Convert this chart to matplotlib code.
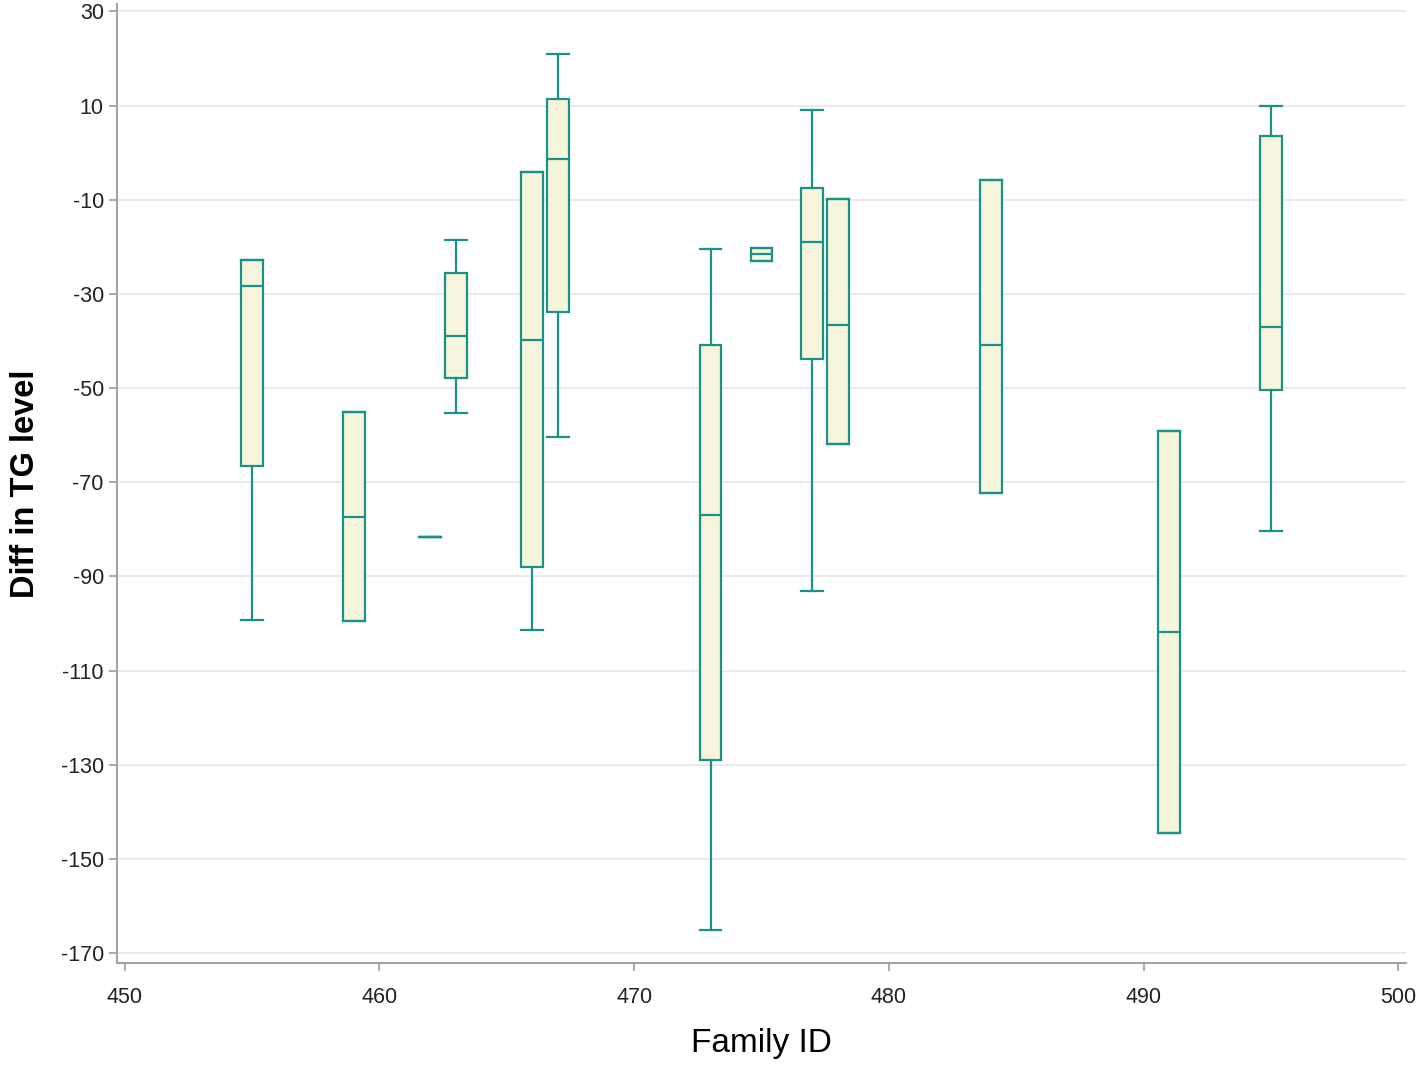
import matplotlib
matplotlib.use("Agg")
import matplotlib.pyplot as plt

plt.rcParams['font.family'] = ['Liberation Sans', 'DejaVu Sans']
plt.rcParams['axes.unicode_minus'] = False

# Family IDs and box statistics
family_id = [455, 459, 462, 463, 466, 467, 473, 475, 477, 478, 484, 491, 495]
whisker_low = [-99.3, -99.5, -81.7, -55.4, -101.4, -60.4, -165.1, -23.1, -93.1, -61.9, -72.3, -144.5, -80.4]
q1 = [-66.6, -99.5, -81.7, -47.9, -88.0, -33.9, -129.0, -23.1, -43.9, -61.9, -72.3, -144.5, -50.5]
median = [-28.4, -77.4, -81.7, -39.0, -39.9, -1.4, -77.0, -21.6, -19.0, -36.7, -40.9, -101.8, -37.1]
q3 = [-22.9, -55.1, -81.7, -25.6, -4.2, 11.3, -40.9, -20.3, -7.6, -9.9, -5.9, -59.2, 3.5]
whisker_high = [-22.9, -55.1, -81.7, -18.6, -4.2, 20.9, -20.5, -20.3, 9.0, -9.9, -5.9, -59.2, 9.8]

y_ticks = [30, 10, -10, -30, -50, -70, -90, -110, -130, -150, -170]
x_ticks = [450, 460, 470, 480, 490, 500]

edge = '#1a9189'
fill = '#f6f5dc'

fig = plt.figure(figsize=(14.18, 10.70), dpi=100)
ax = fig.add_axes([0.0825, 0.1, 0.909, 0.896])

stats = []
for i in range(len(family_id)):
    stats.append(dict(whislo=whisker_low[i], q1=q1[i], med=median[i],
                      q3=q3[i], whishi=whisker_high[i], fliers=[]))

ax.bxp(stats, positions=family_id, widths=0.86, patch_artist=True,
       showfliers=False, manage_ticks=False,
       boxprops=dict(facecolor=fill, edgecolor=edge, linewidth=1.6),
       medianprops=dict(color=edge, linewidth=1.6),
       whiskerprops=dict(color=edge, linewidth=1.6),
       capprops=dict(color=edge, linewidth=1.6),
       capwidths=0.86)

ax.set_xlim(449.7, 500.3)
ax.set_ylim(-172.1, 31.5)
ax.set_xticks(x_ticks)
ax.set_yticks(y_ticks)
ax.yaxis.grid(True, color='#e6e6e6', linewidth=1.2)
ax.set_axisbelow(True)

for s in ['top', 'right']:
    ax.spines[s].set_visible(False)
for s in ['left', 'bottom']:
    ax.spines[s].set_color('#a0a4a8')
    ax.spines[s].set_linewidth(1.5)
ax.tick_params(colors='#a0a4a8', labelcolor='#222222', labelsize=15.5,
               length=6, width=1.3)
ax.tick_params(axis='x', pad=11)

ax.set_xlabel('Family ID', fontsize=24, labelpad=15)
ax.set_ylabel('Diff in TG level', fontsize=23.5, fontweight='bold', labelpad=14)

fig.savefig('out.png', dpi=100)
